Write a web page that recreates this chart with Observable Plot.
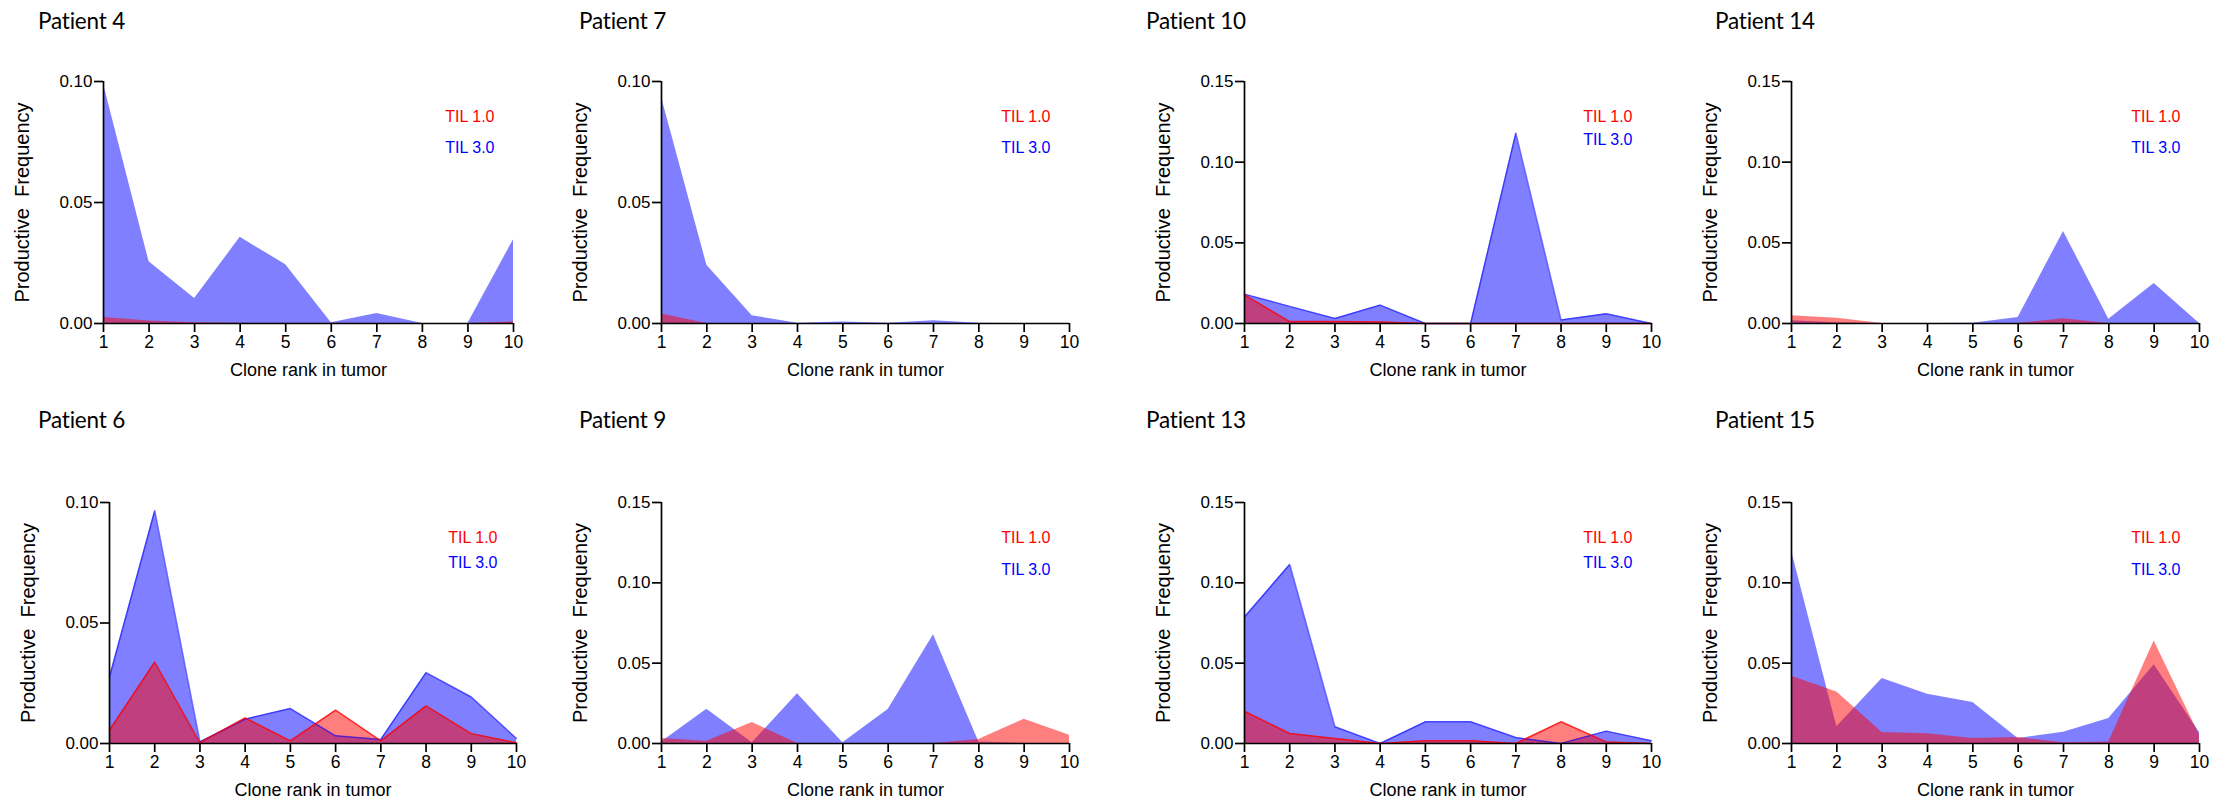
<!DOCTYPE html>
<html>
<head>
<meta charset="utf-8">
<script src="https://cdn.jsdelivr.net/npm/d3@7"></script>
<script src="https://cdn.jsdelivr.net/npm/@observablehq/plot@0.6"></script>
<style>
  body { margin: 0; background: #fff; }
  #root { position: relative; width: 2223px; height: 805px; overflow: hidden; background: #fff; }
  .title { position: absolute; font-family: Lato, "Open Sans", sans-serif; font-size: 22.5px; letter-spacing: -0.2px; line-height: 1; color: #000; white-space: nowrap; }
  .panel { position: absolute; }
</style>
</head>
<body>
<div id="root"></div>
<script>
// ---------------- DATA ----------------
const ranks = [1, 2, 3, 4, 5, 6, 7, 8, 9, 10];
const patientNames = ["Patient 4", "Patient 7", "Patient 10", "Patient 14", "Patient 6", "Patient 9", "Patient 13", "Patient 15"];
const seriesNames = ["TIL 1.0", "TIL 3.0"];
const yMaxes = [0.10, 0.10, 0.15, 0.15, 0.10, 0.15, 0.15, 0.15];
const yTickValues = [0, 0.05, 0.10, 0.15];
const yTickLabels = ["0.00", "0.05", "0.10", "0.15"];
const xLabel = "Clone rank in tumor";
const yLabel = "Productive\u00a0 Frequency";

const p4_til1  = [0.0025, 0.0010, 0.0003, 0.0001, 0.0001, 0.0001, 0.0001, 0.0000, 0.0000, 0.0007];
const p4_til3  = [0.0990, 0.0255, 0.0103, 0.0356, 0.0243, 0.0003, 0.0041, 0.0000, 0.0000, 0.0346];
const p7_til1  = [0.0039, 0.0000, 0.0000, 0.0000, 0.0000, 0.0000, 0.0000, 0.0000, 0.0000, 0.0000];
const p7_til3  = [0.0935, 0.0241, 0.0032, 0.0001, 0.0006, 0.0001, 0.0011, 0.0001, 0.0000, 0.0000];
const p10_til1 = [0.0178, 0.0012, 0.0012, 0.0010, 0.0000, 0.0000, 0.0000, 0.0000, 0.0000, 0.0000];
const p10_til3 = [0.0182, 0.0106, 0.0031, 0.0114, 0.0000, 0.0000, 0.1180, 0.0021, 0.0060, 0.0000];
const p14_til1 = [0.0048, 0.0033, 0.0000, 0.0000, 0.0000, 0.0000, 0.0029, 0.0000, 0.0000, 0.0000];
const p14_til3 = [0.0017, 0.0004, 0.0000, 0.0000, 0.0002, 0.0037, 0.0571, 0.0027, 0.0248, 0.0000];
const p6_til1  = [0.0055, 0.0338, 0.0003, 0.0106, 0.0011, 0.0138, 0.0011, 0.0156, 0.0041, 0.0003];
const p6_til3  = [0.0276, 0.0966, 0.0007, 0.0101, 0.0145, 0.0032, 0.0017, 0.0294, 0.0193, 0.0021];
const p9_til1  = [0.0031, 0.0014, 0.0130, 0.0000, 0.0000, 0.0000, 0.0000, 0.0025, 0.0151, 0.0052];
const p9_til3  = [0.0010, 0.0213, 0.0004, 0.0310, 0.0004, 0.0211, 0.0677, 0.0010, 0.0000, 0.0000];
const p13_til1 = [0.0201, 0.0062, 0.0031, 0.0000, 0.0017, 0.0017, 0.0000, 0.0135, 0.0010, 0.0000];
const p13_til3 = [0.0787, 0.1114, 0.0104, 0.0000, 0.0135, 0.0135, 0.0037, 0.0000, 0.0077, 0.0017];
const p15_til1 = [0.0418, 0.0321, 0.0068, 0.0060, 0.0031, 0.0037, 0.0004, 0.0010, 0.0638, 0.0052];
const p15_til3 = [0.1200, 0.0104, 0.0404, 0.0306, 0.0255, 0.0031, 0.0070, 0.0155, 0.0490, 0.0068];

const til1Series = [p4_til1, p7_til1, p10_til1, p14_til1, p6_til1, p9_til1, p13_til1, p15_til1];
const til3Series = [p4_til3, p7_til3, p10_til3, p14_til3, p6_til3, p9_til3, p13_til3, p15_til3];

// ---------------- LAYOUT (page pixels) ----------------
const axisXs  = [103, 661, 1244, 1791, 109, 661, 1244, 1791];   // y-axis position
const x10s    = [513, 1069, 1651, 2199, 516, 1069, 1651, 2199]; // x = 10 position
const yTops   = [81, 81, 81, 81, 502, 502, 502, 502];
const yZeros  = [323, 323, 323, 323, 743, 743, 743, 743];
const titleXs = [38, 579, 1146, 1715, 38, 579, 1146, 1715];
const titleYs = [10, 10, 10, 10, 409, 409, 409, 409];
const legendGaps = [31, 31, 23, 31, 25, 32, 25, 32];
const showLines = [false, false, true, false, true, false, true, false];

const ML = 110, MT = 15, MR = 24, MB = 65;
const root = document.getElementById("root");

for (let i = 0; i < patientNames.length; i++) {
  const data = ranks.map((r, j) => ({rank: r, til1: til1Series[i][j], til3: til3Series[i][j]}));
  const ymax = yMaxes[i];
  const ticks = yTickValues.filter(v => v <= ymax + 1e-9);
  const width = x10s[i] - axisXs[i] + ML + MR;
  const height = yZeros[i] - yTops[i] + MT + MB;

  const marks = [
    Plot.areaY(data, {x: "rank", y: "til3", fill: "#0000ff", fillOpacity: 0.5}),
    Plot.areaY(data, {x: "rank", y: "til1", fill: "#ff0000", fillOpacity: 0.5})
  ];
  if (showLines[i]) {
    marks.push(
      Plot.lineY(data, {x: "rank", y: "til3", stroke: "#0000ff", strokeOpacity: 0.55, strokeWidth: 1.5}),
      Plot.lineY(data, {x: "rank", y: "til1", stroke: "#ff0000", strokeOpacity: 0.75, strokeWidth: 1.5})
    );
  }
  marks.push(
    Plot.ruleY([0], {stroke: "#000", strokeWidth: 1.7}),
    Plot.ruleX([1], {stroke: "#000", strokeWidth: 1.7}),
    Plot.axisX({ticks: ranks, tickSize: 9, tickPadding: 3, tickFormat: d => String(d), fontSize: 17.5, strokeWidth: 1.7, label: null}),
    Plot.axisY({ticks: ticks, tickSize: 9, tickPadding: 2, tickFormat: d => yTickLabels[yTickValues.findIndex(v => Math.abs(v - d) < 1e-9)], fontSize: 17, strokeWidth: 1.7, label: null}),
    Plot.text([yLabel], {frameAnchor: "left", dx: -81, rotate: -90, textAnchor: "middle", lineAnchor: "middle", fontSize: 20, fill: "#000"}),
    Plot.text([xLabel], {frameAnchor: "bottom", dy: 47, textAnchor: "middle", lineAnchor: "middle", fontSize: 18, fill: "#000"}),
    Plot.text([seriesNames[0]], {frameAnchor: "top-right", dx: -19, dy: 35, textAnchor: "end", lineAnchor: "middle", fontSize: 16, fill: "#ff0000"}),
    Plot.text([seriesNames[1]], {frameAnchor: "top-right", dx: -19, dy: 35 + legendGaps[i], textAnchor: "end", lineAnchor: "middle", fontSize: 16, fill: "#0000ff"})
  );

  const svg = Plot.plot({
    width, height,
    marginLeft: ML, marginTop: MT, marginRight: MR, marginBottom: MB,
    x: {domain: [1, 10], axis: null},
    y: {domain: [0, ymax], axis: null},
    style: {fontFamily: "'Liberation Sans', Arial, sans-serif", background: "transparent", overflow: "visible", color: "#000"},
    marks
  });

  const div = document.createElement("div");
  div.className = "panel";
  div.style.left = (axisXs[i] - ML) + "px";
  div.style.top = (yTops[i] - MT) + "px";
  div.appendChild(svg);
  root.appendChild(div);

  const t = document.createElement("div");
  t.className = "title";
  t.style.left = titleXs[i] + "px";
  t.style.top = titleYs[i] + "px";
  t.textContent = patientNames[i];
  root.appendChild(t);
}
</script>
</body>
</html>
